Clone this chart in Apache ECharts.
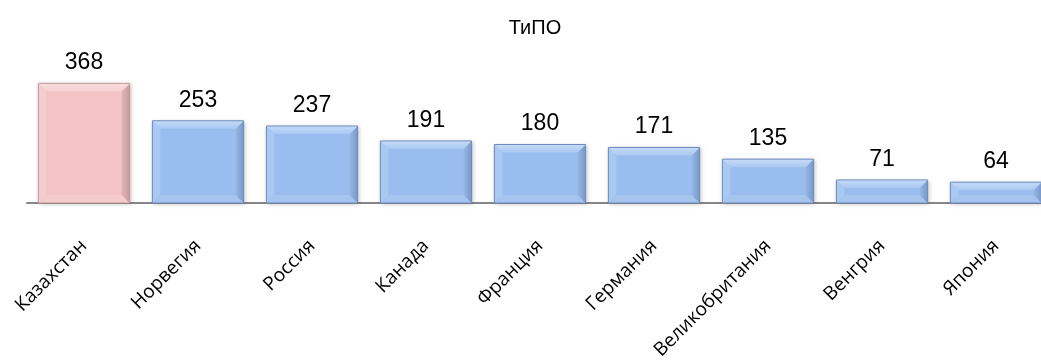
<!DOCTYPE html>
<html>
<head>
<meta charset="utf-8">
<script src="https://cdn.jsdelivr.net/npm/echarts@6/dist/echarts.min.js"></script>
<style>
  html, body { margin: 0; padding: 0; background: #fff; }
  #main { width: 1041px; height: 363px; }
</style>
</head>
<body>
<div id="main"></div>
<script>
// данные
var countries = ['Казахстан', 'Норвегия', 'Россия', 'Канада', 'Франция', 'Германия', 'Великобритания', 'Венгрия', 'Япония'];
var values = [368, 253, 237, 191, 180, 171, 135, 71, 64];
var highlightIndex = 0; // Казахстан выделен розовым

var blue = {center: '#99bdee', top: '#c6dcf8', topEnd: '#a9c8f2', left: '#a9c8f2', right: '#97b7e5', rightEnd: '#7898c8', bottom: '#a5c4ee', line: '#6d8dbd'};
var pink = {center: '#f3c3c5', top: '#fadddf', topEnd: '#f5cfd0', left: '#f5cdce', right: '#e2b4b6', rightEnd: '#c89c9e', bottom: '#f5cccd', line: '#c29a9c'};

// скошенный (bevel) столбик
function renderBevel(params, api) {
    var i = api.value(0);
    var v = api.value(1);
    var p = api.coord([i, v]);
    var q = api.coord([i, 0]);
    var w = api.size([1, 0])[0] * 0.8;
    var x0 = p[0] - w / 2, x1 = p[0] + w / 2, y0 = p[1], y1 = q[1];
    var b = Math.min(8, (y1 - y0) / 2);
    var c = i === highlightIndex ? pink : blue;
    var ix0 = x0 + b, ix1 = x1 - b, iy0 = y0 + b, iy1 = y1 - b;
    return {
        type: 'group',
        children: [
            {type: 'rect', shape: {x: x0, y: y0, width: w, height: y1 - y0},
                style: {fill: c.center, shadowBlur: 4, shadowColor: 'rgba(0,0,0,0.25)', shadowOffsetX: 1, shadowOffsetY: 1}},
            {type: 'polygon', shape: {points: [[x0, y0], [ix0, iy0], [ix0, iy1], [x0, y1]]},
                style: {fill: c.left}},
            {type: 'polygon', shape: {points: [[x0, y1], [ix0, iy1], [ix1, iy1], [x1, y1]]},
                style: {fill: c.bottom}},
            {type: 'polygon', shape: {points: [[x1, y0], [x1, y1], [ix1, iy1], [ix1, iy0]]},
                style: {fill: new echarts.graphic.LinearGradient(0, 0, 1, 0, [{offset: 0, color: c.right}, {offset: 1, color: c.rightEnd}])}},
            {type: 'polygon', shape: {points: [[x0, y0], [x1, y0], [ix1, iy0], [ix0, iy0]]},
                style: {fill: new echarts.graphic.LinearGradient(0, 0, 0, 1, [{offset: 0, color: c.top}, {offset: 1, color: c.topEnd}])}},
            {type: 'rect', shape: {x: x0, y: y0, width: w, height: y1 - y0},
                style: {fill: 'none', stroke: c.line, lineWidth: 1}}
        ]
    };
}

var chart = echarts.init(document.getElementById('main'));

chart.setOption({
    animation: false,
    title: {
        text: 'ТиПО',
        left: 530,
        top: 13,
        textAlign: 'center',
        textStyle: {fontFamily: 'Liberation Sans', fontSize: 20, fontWeight: 'normal', color: '#000'}
    },
    grid: {left: 27, width: 1026, top: 73, bottom: 160, containLabel: false, outerBoundsMode: 'none'},
    xAxis: {
        type: 'category',
        data: countries,
        axisLine: {lineStyle: {color: '#878787', width: 2}},
        axisTick: {length: 5, lineStyle: {color: '#878787', width: 2}},
        axisLabel: {
            rotate: 45,
            margin: 40,
            interval: 0,
            fontFamily: 'Open Sans',
            fontSize: 19,
            color: '#000'
        }
    },
    yAxis: {type: 'value', min: 0, max: 400, show: false, splitLine: {show: false}},
    series: [{
        type: 'custom',
        renderItem: renderBevel,
        data: values.map(function (v, i) { return [i, v]; }),
        z: 2
    }, {
        // прозрачные столбики только для подписей значений
        type: 'bar',
        barCategoryGap: '20%',
        data: values,
        itemStyle: {color: 'rgba(0,0,0,0)'},
        silent: true,
        z: 3,
        label: {
            show: true,
            position: 'top',
            distance: 9,
            fontFamily: 'Liberation Sans',
            fontSize: 23,
            color: '#000'
        }
    }]
});
</script>
</body>
</html>
